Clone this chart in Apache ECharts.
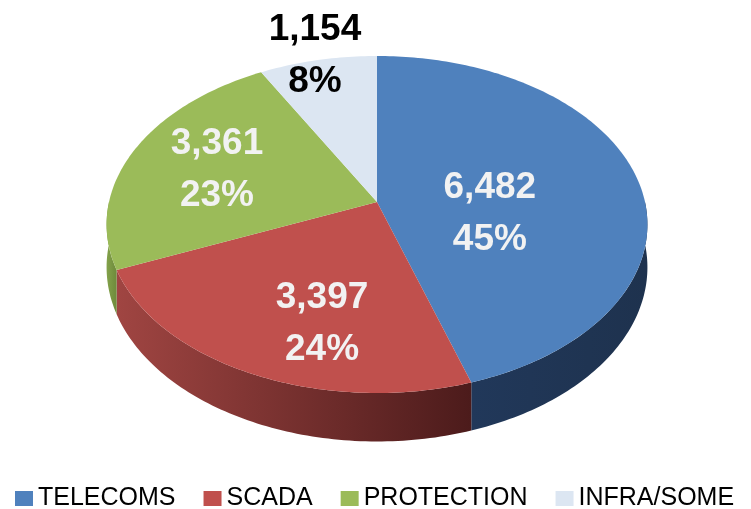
<!DOCTYPE html>
<html lang="en">
<head>
<meta charset="UTF-8">
<title>pie 3d</title>
<script src="https://cdn.jsdelivr.net/npm/echarts@6/dist/echarts.min.js"></script>
<style>
    html,body{margin:0;padding:0;background:#fff;}
    #main{width:751px;height:509px;}
</style>
</head>
<body>
<div id="main"></div>
<script>
var categories=['TELECOMS','SCADA','PROTECTION','INFRA/SOME'];
var values=[6482,3397,3361,1154];
var topColors=['#4F81BD','#C0504D','#9BBB59','#DCE6F2'];
var sideColors=[['#21385A','#1E324E'],['#A04542','#4C1B1B'],['#83A24B','#6E8A3B'],['#B9C2CC','#9AA3AD']];
var labelColors=['#F2F2F2','#F2F2F2','#F2F2F2','#000000'];
// where the label sits: [radius fraction, extra y shift]
var labelPlace=[[0.43,23],[0.465,48],[0.65,2],[1.056,3]];

var total=values.reduce(function(a,b){return a+b;},0);
var starts=[],acc=0;
for(var i=0;i<values.length;i++){ starts.push(acc/total*2*Math.PI); acc+=values[i]; }

// perspective view of a tilted disc
var CX=377,CY=202,RX=268,RY=165.5,K=0.1335,DEPTH=42;
function proj(r,a,drop){
    var s=1+K*r*Math.cos(a);
    return [CX+RX*r*Math.sin(a)/s, CY-(RY*r*Math.cos(a)-(drop||0))/s];
}
function rim(lo,hi,drop){
    var pts=[],n=Math.max(2,Math.ceil((hi-lo)/(Math.PI/180)));
    for(var j=0;j<=n;j++){ pts.push(proj(1,lo+(hi-lo)*j/n,drop)); }
    return pts;
}

function renderSlice(params,api){
    var i=params.seriesIndex;
    var v=api.value(0);
    var a0=starts[i],a1=a0+v/total*2*Math.PI;
    var children=[];
    // front wall
    var lo=Math.max(a0,Math.PI/2),hi=Math.min(a1,Math.PI*1.5);
    if(lo<hi){
        var pts=rim(lo,hi,0).concat(rim(lo,hi,DEPTH).reverse());
        children.push({
            type:'polygon',
            shape:{points:pts},
            style:{fill:new echarts.graphic.LinearGradient(0,0,1,0,[
                {offset:0,color:sideColors[i][0]},{offset:1,color:sideColors[i][1]}])}
        });
    }
    // top face
    children.push({
        type:'polygon',
        shape:{points:[proj(0,0,0)].concat(rim(a0,a1,0))},
        style:{fill:topColors[i]}
    });
    // label
    var mid=(a0+a1)/2,lp=proj(labelPlace[i][0],mid,0);
    children.push({
        type:'text',
        style:{
            text:v.toLocaleString('en-US')+'\n'+Math.round(v/total*100)+'%',
            x:lp[0],y:lp[1]+labelPlace[i][1],
            fill:labelColors[i],
            fontSize:37,fontWeight:'bold',fontFamily:'Liberation Sans',
            align:'center',verticalAlign:'middle',lineHeight:52
        }
    });
    return {type:'group',children:children};
}

var chart=echarts.init(document.getElementById('main'));
chart.setOption({
    animation:false,
    color:topColors,
    legend:{
        data:categories,
        top:481,left:10,
        icon:'rect',itemWidth:18,itemHeight:15,itemGap:28,
        textStyle:{fontSize:25,fontFamily:'Liberation Sans',color:'#000'}
    },
    series:categories.map(function(name,i){
        return {
            type:'custom',
            name:name,
            coordinateSystem:'none',
            silent:true,
            data:[[values[i]]],
            renderItem:renderSlice
        };
    })
});
</script>
</body>
</html>
